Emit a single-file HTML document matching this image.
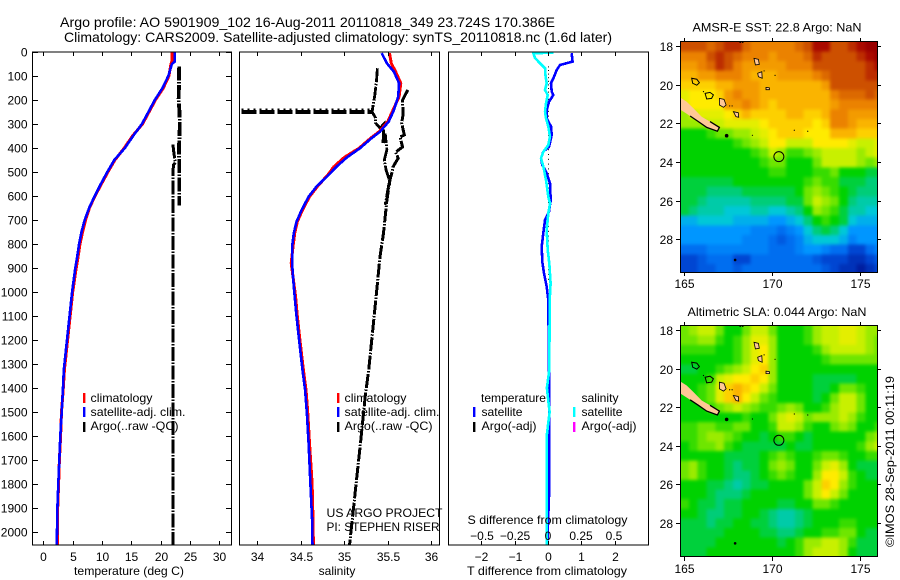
<!DOCTYPE html>
<html>
<head>
<meta charset="utf-8">
<title>Argo profile plot</title>
<style>
html,body{margin:0;padding:0;background:#fff;}
svg{display:block;}
text{font-family:"Liberation Sans",sans-serif;fill:#000;font-size:12px;}
.frame{fill:none;stroke:#000;stroke-width:1.4;shape-rendering:crispEdges;}
</style>
</head>
<body>
<svg id="chart" xmlns="http://www.w3.org/2000/svg" width="900" height="580" viewBox="0 0 900 580">
<defs>
<clipPath id="clip-t"><rect x="33" y="52" width="198" height="493"/></clipPath>
<clipPath id="clip-s"><rect x="240" y="52" width="199" height="493"/></clipPath>
<clipPath id="clip-d"><rect x="449" y="52" width="199" height="493"/></clipPath>
<clipPath id="clip-m1"><rect x="680" y="42" width="197" height="230"/></clipPath>
<clipPath id="clip-m2"><rect x="680" y="326" width="197" height="231"/></clipPath>
<filter id="soften" filterUnits="userSpaceOnUse" x="660" y="20" width="240" height="560" color-interpolation-filters="sRGB">
<feGaussianBlur stdDeviation="1.7"/>
<feComponentTransfer><feFuncA type="linear" slope="30"/></feComponentTransfer>
</filter>
</defs>
<text x="60" y="27" font-size="14" style="font-size:14px" textLength="495" lengthAdjust="spacingAndGlyphs">Argo profile: AO 5901909_102 16-Aug-2011 20110818_349 23.724S 170.386E</text>
<text x="64" y="42" style="font-size:14px" textLength="548" lengthAdjust="spacingAndGlyphs">Climatology: CARS2009. Satellite-adjusted climatology: synTS_20110818.nc (1.6d later)</text>

<g id="g-temp" clip-path="url(#clip-t)"></g>
<g id="g-sal" clip-path="url(#clip-s)"></g>
<g id="g-diff" clip-path="url(#clip-d)"></g>
<g id="g-map1" clip-path="url(#clip-m1)"></g>
<g id="g-map2" clip-path="url(#clip-m2)"></g>
<g id="g-axes"></g>

<rect class="frame" x="32.5" y="52" width="199" height="493"/>
<rect class="frame" x="239.5" y="52" width="200" height="493"/>
<rect class="frame" x="448.5" y="52" width="200" height="493"/>
<rect class="frame" x="680.5" y="41.5" width="197" height="231"/>
<rect class="frame" x="680.5" y="325.5" width="197" height="231"/>

<text x="74" y="575" textLength="110" lengthAdjust="spacingAndGlyphs">temperature (deg C)</text>
<text x="337" y="575" text-anchor="middle">salinity</text>
<text x="467" y="575" textLength="160" lengthAdjust="spacingAndGlyphs">T difference from climatology</text>
<text x="467.5" y="524" textLength="160" lengthAdjust="spacingAndGlyphs">S difference from climatology</text>
<text x="326.5" y="517" textLength="116" lengthAdjust="spacingAndGlyphs">US ARGO PROJECT</text>
<text x="326.5" y="531" textLength="113" lengthAdjust="spacingAndGlyphs">PI: STEPHEN RISER</text>

<g>
<rect x="83" y="393" width="2.4" height="10" fill="#f00"/>
<rect x="83" y="407" width="2.4" height="10" fill="#00f"/>
<rect x="83" y="422" width="2.4" height="10" fill="#000"/>
<text x="90.5" y="402" textLength="62" lengthAdjust="spacingAndGlyphs">climatology</text>
<text x="90.5" y="416" textLength="95" lengthAdjust="spacingAndGlyphs">satellite-adj. clim.</text>
<text x="90.5" y="430" textLength="88" lengthAdjust="spacingAndGlyphs">Argo(..raw -QC)</text>
</g>
<g>
<rect x="337" y="393" width="2.4" height="10" fill="#f00"/>
<rect x="337" y="407" width="2.4" height="10" fill="#00f"/>
<rect x="337" y="422" width="2.4" height="10" fill="#000"/>
<text x="344.5" y="402" textLength="62" lengthAdjust="spacingAndGlyphs">climatology</text>
<text x="344.5" y="416" textLength="95" lengthAdjust="spacingAndGlyphs">satellite-adj. clim.</text>
<text x="344.5" y="430" textLength="88" lengthAdjust="spacingAndGlyphs">Argo(..raw -QC)</text>
</g>
<g>
<text x="481" y="402" textLength="65" lengthAdjust="spacingAndGlyphs">temperature</text>
<rect x="473" y="407" width="2.4" height="10" fill="#00f"/>
<rect x="473" y="422" width="2.4" height="10" fill="#000"/>
<text x="481.5" y="416" textLength="41" lengthAdjust="spacingAndGlyphs">satellite</text>
<text x="481.5" y="430" textLength="55" lengthAdjust="spacingAndGlyphs">Argo(-adj)</text>
<text x="581.5" y="402" textLength="37" lengthAdjust="spacingAndGlyphs">salinity</text>
<rect x="573" y="407" width="2.4" height="10" fill="#0ff"/>
<rect x="573" y="422" width="2.4" height="10" fill="#f0f"/>
<text x="581.5" y="416" textLength="41" lengthAdjust="spacingAndGlyphs">satellite</text>
<text x="581.5" y="430" textLength="55" lengthAdjust="spacingAndGlyphs">Argo(-adj)</text>
</g>

<text x="692.5" y="31.5" textLength="169" lengthAdjust="spacingAndGlyphs">AMSR-E SST: 22.8 Argo: NaN</text>
<text x="687.5" y="316" textLength="179" lengthAdjust="spacingAndGlyphs">Altimetric SLA: 0.044 Argo: NaN</text>
<text transform="translate(894,547) rotate(-90)" x="0" y="0" textLength="171" lengthAdjust="spacingAndGlyphs">©IMOS 28-Sep-2011 00:11:19</text>
</svg>

<script>
// ---- axis tick values ----
const depthTicks = [0,100,200,300,400,500,600,700,800,900,1000,1100,1200,1300,1400,1500,1600,1700,1800,1900,2000];
const tempTicks = [0,5,10,15,20,25,30];
const salTicks = [34,34.5,35,35.5,36];
const salTickLabels = ['34','34.5','35','35.5','36'];
const tDiffTicks = [-2,-1,0,1,2];
const tDiffLabels = ['\u22122','\u22121','0','1','2'];
const sDiffTicks = [-0.5,-0.25,0,0.25,0.5];
const sDiffLabels = ['\u22120.5','\u22120.25','0','0.25','0.5'];
const lonTicks = [165,170,175];
const latTicks = [18,20,22,24,26,28];

// ---- temperature profiles ----
const tempDepths = [0,40,50,100,150,200,250,300,350,400,450,500,550,600,650,700,750,800,850,900,1000,1325,1400,1500,1600,1700,1800,1900,2000,2055];
const tempSatellite = [22.4,22.4,21.9,21.3,20.3,19.0,17.9,16.8,15.3,13.9,12.1,10.9,9.8,8.75,7.8,7.05,6.5,6.1,5.8,5.45,4.9,3.5,3.35,3.13,2.9,2.73,2.56,2.4,2.33,2.3];
const tempClimatology = [21.9,21.9,21.75,21.4,20.45,19.1,18.0,16.9,15.2,13.8,12.2,11.0,9.9,8.8,7.85,7.2,6.7,6.25,5.95,5.6,5.0,3.6,3.4,3.1,2.95,2.75,2.6,2.45,2.4,2.4];
const argoTempUpperDepths = [60,100,150,200,250,300,350,400,450,500,550,600,640];
const argoTempUpper = [23.15,23.1,23.1,23.05,23.2,23.25,23.2,23.1,23.15,23.15,23.15,23.15,23.15];
const argoTempLowerDepths = [385,400,430,460,470,480,500,800,1500,2055];
const argoTempLower = [22.1,22.15,22.3,22.5,22.2,22.15,22.1,22.1,22.1,22.1];

// ---- salinity profiles ----
const salDepths = [5,47,82,130,186,242,290,332,360,401,439,478,512,561,603,658,707,755,811,880,936,1020,1100,1200,1325,1408,1506,1630,1797,1950,2055];
const salSatellite = [35.43,35.49,35.57,35.63,35.62,35.57,35.51,35.41,35.31,35.18,35.03,34.91,34.82,34.68,34.59,34.51,34.45,34.42,34.40,34.40,34.41,34.43,34.45,34.48,34.52,34.55,34.57,34.59,34.61,34.63,34.635];
const salClimatology = [35.52,35.54,35.59,35.65,35.63,35.56,35.5,35.4,35.3,35.17,35.0,34.88,34.81,34.69,34.6,34.52,34.46,34.43,34.41,34.39,34.41,34.44,34.46,34.49,34.53,34.56,34.58,34.6,34.63,34.64,34.645];
const argoSalADepths = [68,120,180,249,275,296,317,300,379,340,408,450,492,535,575,637];
const argoSalA = [35.38,35.37,35.35,35.32,35.36,35.36,35.41,35.455,35.445,35.47,35.49,35.46,35.48,35.52,35.5,35.47];
const argoSalBDepths = [158,200,262,296,346,354,396,417,442,479,500,533,617,755,853,1020,1325,1436,1617,1783,1921,2055];
const argoSalB = [35.73,35.67,35.675,35.66,35.69,35.64,35.67,35.59,35.62,35.56,35.55,35.525,35.49,35.45,35.41,35.365,35.28,35.24,35.19,35.14,35.10,35.06];
const argoSpikeSal = [33.82,35.33];
const argoSpikeDepths = [250,250];
const argoSpikeTeethDepths = [238,238];

// ---- difference profiles ----
const tDiffDepths = [5,40,54,75,110,130,165,179,207,242,276,311,346,395,415,443,471,505,547,617,665,700,755,811,874,922,978,1033,1325,1550,1850,2000,2055];
const tDiffSatellite = [0.71,0.74,0.36,0.26,0.16,0.09,0.11,0.16,0.03,-0.04,-0.04,0.09,0.11,0.03,-0.14,-0.21,-0.17,-0.04,0.06,0.08,0.03,-0.09,-0.14,-0.19,-0.17,-0.12,-0.04,0.01,0.03,0.04,0.03,-0.01,-0.02];
const sDiffDepths = [3,5,26,47,68,103,130,158,179,214,249,276,311,353,388,415,443,478,533,603,631,672,742,825,880,964,1033,1325,1400,1500,1600,1800,2000,2055];
const sDiffSatellite = [0.04,-0.111,-0.098,-0.06,-0.023,-0.018,-0.01,-0.023,-0.002,-0.015,-0.023,-0.015,0.002,0.015,0.002,-0.035,-0.053,-0.035,-0.015,0.002,0.015,0.002,-0.01,-0.002,0.01,0.02,0.013,0.01,-0.008,0.012,-0.01,-0.008,-0.01,-0.01];
const argoDiffDots = [60,75,90,105,120,135,150,165,180,195,210,225,245,265,285,305,325,345,365,385,405,425,445,465,485,505,525,545,565,585,605,625,645,665,685,705,725,745,765,785,805,825,845,865,885,905,925,945];

// ---- SST map levels (colour level per 0.5 degree cell, north to south) ----
const sstLevels = [
[12,12,12,11.5,12,12.5,12.5,11.5,11,11,11,11,11,11.5,12,13,13,12,12,12.5,13,13.5,13.5],
[11,11,11,12,12.5,12,11.5,11,11,11,10.5,11,11,11,11.5,12.5,12,12,12,12,12.5,13,13.5],
[10.5,10.5,11,11.5,12.5,12,11,10.5,10.5,10.5,10.5,10.5,11,11,11,12,12,12,12,12,12,12.5,13],
[10,10,10.5,10.5,11,11,11,10.5,10,10,10,10.5,10.5,10.5,10.5,11,11.5,12,12,12,12,12.5,12.5],
[9.5,9.5,9.5,9.5,10,10,10.5,10.5,10.5,10,10,10,10,10,10,10,10.5,12,12,12,12,12,12],
[8.5,9,9,9,9.5,10.5,11,10.5,10.5,10,10,10,10,10,10,10,10,11,11.5,11.5,11.5,12,11.5],
[8.5,9,9,9,9,10.5,10.5,11,10.5,10,9.5,10,10,10,10,10,10,10.5,11,11,11,11,11],
[7.5,8,8.5,8.5,8.5,9,9.5,10,9.5,9.5,9.5,9.5,10,10,9.5,9.5,10,11,11,10.5,10.5,10.5,10.5],
[7.5,7.5,7.5,8,8,8.5,8.5,8.5,8.5,9,9.5,9.5,9.5,9.5,9.5,9,9.5,11,11,10.5,10,10,10],
[6,6,6,6.5,7,7,7.5,7.5,8,8.5,9,9.5,9.5,9.5,9,9,9,10,10,10,9.5,9.5,9.5],
[6,6,6,6,6,6,6.5,7,7.5,8,9,9,8,8,8,9,9,9,9,8.5,8,8,8.5],
[6,6,6,6,6,6,6,6,6.5,7,8,7.5,6.5,6.5,7,7.5,8,8,8,8,7.5,8,8.5],
[6,6,6,6,6,6,6,6,6,6.5,7,7,6,6,6,7,8,8,8,8,7.5,7,7.5],
[6,6,6,6,6,6,6,6,6,6,6.5,6.5,6,6,6,6.5,6.5,7,6,6,6,5.5,5.5],
[5.5,5.5,5.5,5.5,5.5,5.5,6,6,6,6,6,6,6,6,6.5,7,6.5,6.5,5.5,5.5,5.5,5,5],
[5.5,5.5,5.5,5,5,5,5,5.5,5.5,5.5,5.5,5.5,5.5,6,7,7.5,7,6.5,6,5.5,5,5,5],
[5.5,5.5,5,4.5,4.5,4.5,4.5,4.5,5,5,5,5,5.5,5.5,7,8,7.5,7,6,5,4.5,4.5,4.5],
[5.5,5,4.5,4.5,4.5,4,4,4,4.5,4.5,4,4,4.5,5,6,7.5,7,6.5,5.5,4.5,4.5,4,4],
[3.5,3.5,4,4,4,4,3.5,3.5,3.5,3.5,3,3,3.5,4,5,6,6.5,6,5.5,4,3.5,3.5,3.5],
[3,3,3,3,3,3,3,3,2.5,2.5,2.5,2,2.5,3,4,5,5.5,5,4,3,3,3,3],
[3,3,3,3,3,3,3,2.5,2.5,2.5,2,1.5,2,2.5,3.5,4,4,4,3.5,2.5,3,3,3],
[2,2,2,2.5,2.5,2.5,2.5,2.5,2.5,2.5,2,2,2,2.5,3,3,2.5,2,2,1,1,2,2.5],
[1,1,1.5,2,2,2,1,1,2,2,2,2,2,2,2,1.5,1,1,1,0.5,0.5,1,1.5],
[1,1,1.5,1.5,2,2,1.5,2,2,2,2,2,2,2,2,2,1.5,1,0.5,0.5,0,0.5,1]
];

// ---- SLA map levels ----
const slaLevels = [
[7,7.5,8,8,7,6,6,7,8,8,7,6,6,6,6.5,7.5,8,8,8.5,8.5,8,7.5,7.5],
[7,7,7.5,7.5,6.5,6,6.5,7.5,8.5,8.5,7.5,6,6,6,6.5,7.5,8,8,8.5,8.5,8,7.5,7],
[6.5,6.5,6.5,6.5,6,6,6.5,7.5,8.5,9,7.5,6,6,6,6,6.5,7.5,8,8,8,8,7.5,7],
[6,6,6,6,6,6,6.5,7.5,8.5,9,7.5,6,6,6,6,6,6.5,7,7,7,7,7,7],
[5.5,5.5,6,6,6.5,7,7.5,8,9,9.5,7.5,6,6,6,6,6,6,6,6,6,6,6,6],
[6,6,6,6.5,8,8.5,9,9,9.5,9,7.5,6,6,6,6,5.5,5.5,5.5,5.5,5.5,6,6,6],
[6,6,6.5,7,8.5,9.5,10,9.5,9,8,7,6,6,6,6,5.5,5.5,6,7,7,6.5,6,6],
[6,6,6.5,7,8.5,9.5,10,9,8,7,6.5,6,6,6,6,5.5,6,7,8,8,7,6,6],
[6,6,6,6.5,7,7.5,8,7.5,7,6.5,6.5,7,7.5,7,6,6,6.5,7.5,8,8,7,6,6],
[6,6,6,6,6,6,6,6.5,6,6,7,8,8.5,8,7,7.5,7.5,7.5,8,7.5,6.5,6,6],
[6.5,6.5,7,7,6.5,6.5,7,7,6,6,6.5,8,8,7.5,6.5,6,6,7,7.5,7,6,6,6.5],
[6.5,6.5,7,7.5,7.5,7,6.5,6,6,5.5,6,6.5,6.5,6,5.5,6,6,6,6,6,6,7,7.5],
[6,6.5,7,7,7.5,6.5,6,5.5,5.5,5.5,5.5,5.5,6,5.5,5.5,6,6,6,6,6,6.5,7.5,8],
[6,6,6,6,6,5.5,5.5,5.5,5.5,6,6.5,7,6.5,6,6,6.5,7,7,6.5,6,6,6.5,6.5],
[7,7.5,6.5,6,6,5.5,5,5.5,5.5,6,7,7.5,7,6,6,7,8,8.5,7.5,6,5.5,5.5,5.5],
[7,7.5,6.5,6,6,5.5,5,5,5.5,6,6.5,7,6.5,6,6,7.5,9,9,8,6.5,6,5.5,5.5],
[6,6,6,5.5,5.5,5,4.5,5,5.5,5.5,6,6,6,6,7,8,9.5,9,7.5,6.5,6,6,6],
[6,6,6,5.5,5,5,5,5.5,6,6,6,6,6,6,7,8,9,8,7,6,6,6,6],
[6.5,6,5.5,5.5,5,5.5,5.5,6,6,6,6,5.5,5.5,6,6,7,7,6.5,6,6,6,6,6],
[6,6,5.5,5,5,5.5,5.5,6,6,5.5,5,4.5,4.5,5,5.5,6,6,6,6,6,6,6,6],
[5.5,5.5,5.5,5,5.5,5.5,6,6,5.5,5.5,5,4.5,4.5,5,5.5,6,6,6,6.5,6.5,6,6,6],
[5.5,5.5,5.5,5.5,5.5,6,6,6,6,5.5,5.5,5,5,5.5,6,6,6.5,6.5,7,7,6,5.5,5.5],
[5.5,5.5,5.5,5.5,6,6,6,6,6,6,6,5.5,6,6.5,7.5,7.5,8,8,7.5,6.5,5.5,5.5,5.5],
[5.5,5.5,5.5,6,6,6,6,6,6,6,6,6,6,6.5,7.5,8,8,8,7.5,6,5.5,5.5,5.5]
];
const colourStops = ['#001ea0','#0046d2','#006ef0','#0096ff','#00c8d7','#00cd78','#00d200','#6ee600','#c8f000','#ffeb00','#fab400','#eb8200','#cd5000','#aa0a00'];

// ---- geography (lon/lat, degrees south) ----
const caledoniaLon = [164.79,165.17,165.55,166.02,166.49,167.02,166.91,166.3,165.83,165.36,164.79];
const caledoniaLat = [20.66,20.88,21.22,21.66,21.91,22.21,22.41,22.21,21.91,21.62,21.28];
const outlineIslandLons = [[165.45,165.74,165.89,165.74,165.51],[166.21,166.49,166.68,166.58,166.3]];
const outlineIslandLats = [[19.67,19.72,19.9,20.03,19.93],[20.45,20.4,20.53,20.71,20.74]];
const filledIslandLons = [[167.02,167.28,167.4,167.25,167.02],[167.81,168.09,168.11,167.96],[168.98,169.23,169.28,169.06],[169.19,169.42,169.44,169.23],[169.66,169.85,169.85,169.66]];
const filledIslandLats = [[20.71,20.76,21.05,21.17,21.05],[21.4,21.45,21.69,21.66],[18.64,18.69,18.95,18.98],[19.41,19.33,19.67,19.59],[20.14,20.16,20.26,20.26]];
const islandDotLons = [167.43,167.91,168.89,170.17,171.26,172.02,169.55,166.12,167.74,167.6,168.2,168.34];
const islandDotLats = [22.64,29.07,22.62,19.52,22.36,22.41,19.29,20.36,21.1,21.1,17.8,17.8];
const islandDotRadii = [1.8,1.3,0.6,0.6,0.6,0.6,0.6,0.6,0.6,0.6,0.9,0.9];
const floatLon = 170.386;
const floatLat = 23.724;

const NS = 'http://www.w3.org/2000/svg';
function mk(tag, parent, attrs){
  const el = document.createElementNS(NS, tag);
  for (const k in attrs) el.setAttribute(k, attrs[k]);
  parent.appendChild(el);
  return el;
}
// axis functions
function yDepth(d){ return 52 + d * 0.24; }
function xTemp(t){ return 43.3 + t * 5.87; }
function xSal(s){ return 257.3 + (s - 34) * 87; }
function xTDiff(t){ return 548 + t * 33.3; }
function xSDiff(s){ return 548 + s * 132; }
function xLon(lon){ return 683.7 + (lon - 165) * 17.67; }
function yLat1(lat){ return 46 + (lat - 18) * 19.33; }
function yLat2(lat){ return 330 + (lat - 18) * 19.27; }

function hexToRgb(h){ return [parseInt(h.substr(1,2),16),parseInt(h.substr(3,2),16),parseInt(h.substr(5,2),16)]; }
function levelColour(v){
  const i = Math.min(Math.floor(v), colourStops.length - 2);
  const f = v - i;
  const a = hexToRgb(colourStops[i]);
  const b = hexToRgb(colourStops[i + 1]);
  return 'rgb(' + a.map(function(c, n){ return Math.round(c + (b[n] - c) * f); }).join(',') + ')';
}
function pts(xs, ys, fx, fy){
  return xs.map(function(v, i){ return fx(v).toFixed(1) + ',' + fy(ys[i]).toFixed(1); }).join(' ');
}
function profile(parent, name, vals, depths, fx, colour, width, dash){
  const attrs = {points: pts(vals, depths, fx, yDepth), fill: 'none', stroke: colour, 'stroke-width': width, 'shape-rendering': 'crispEdges'};
  if (dash) attrs['stroke-dasharray'] = dash;
  const el = mk('polyline', parent, attrs);
  
  
  return el;
}
const gTemp = document.getElementById('g-temp');
const gSal = document.getElementById('g-sal');
const gDiff = document.getElementById('g-diff');
const gAxes = document.getElementById('g-axes');
const ARGO_DASH = '14 1.5 1.5 1.5';

// temperature panel
profile(gTemp, 'argo-temperature-upper-line', argoTempUpper, argoTempUpperDepths, xTemp, '#000', 3.8, ARGO_DASH);
profile(gTemp, 'argo-temperature-lower-line', argoTempLower, argoTempLowerDepths, xTemp, '#000', 3, ARGO_DASH);
profile(gTemp, 'temperature-climatology-line', tempClimatology, tempDepths, xTemp, '#f00', 3);
profile(gTemp, 'temperature-satellite-line', tempSatellite, tempDepths, xTemp, '#00f', 2.6);

// salinity panel
profile(gSal, 'argo-salinity-spike', argoSpikeSal, argoSpikeDepths, xSal, '#000', 4, '15 3');
profile(gSal, 'argo-salinity-spike-teeth', argoSpikeSal, argoSpikeTeethDepths, xSal, '#000', 1.5, '2 4');
profile(gSal, 'argo-salinity-line-a', argoSalA, argoSalADepths, xSal, '#000', 2.8, ARGO_DASH);
profile(gSal, 'argo-salinity-line-b', argoSalB, argoSalBDepths, xSal, '#000', 3, ARGO_DASH);
profile(gSal, 'salinity-climatology-line', salClimatology, salDepths, xSal, '#f00', 3);
profile(gSal, 'salinity-satellite-line', salSatellite, salDepths, xSal, '#00f', 2.6);

// difference panel
argoDiffDots.forEach(function(d){
  const dot = mk('rect', gDiff, {x: xTDiff(0), y: yDepth(d), width: 1, height: 1, fill: '#000'});
  
  
});
profile(gDiff, 't-difference-satellite-line', tDiffSatellite, tDiffDepths, xTDiff, '#00f', 2.6);
profile(gDiff, 's-difference-satellite-line', sDiffSatellite, sDiffDepths, xSDiff, '#0ff', 2.6);

// ticks and labels
function tick(x1, y1, x2, y2){
  const t = mk('line', gAxes, {x1: x1, y1: y1, x2: x2, y2: y2, stroke: '#000', 'stroke-width': 1, 'shape-rendering': 'crispEdges'});
  
  
}
function label(x, y, s, anchor){
  const t = mk('text', gAxes, {x: x, y: y, 'text-anchor': anchor});
  t.textContent = s;
  
  
}
depthTicks.forEach(function(d){
  const y = Math.round(yDepth(d)) + 0.5;
  tick(33, y, 38, y);
  tick(226, y, 231, y);
  label(27.5, y + 4, String(d), 'end');
});
tempTicks.forEach(function(v){
  const x = Math.round(xTemp(v)) + 0.5;
  tick(x, 52, x, 56);
  tick(x, 541, x, 545);
  label(x, 561, String(v), 'middle');
});
salTicks.forEach(function(v, i){
  const x = Math.round(xSal(v)) + 0.5;
  tick(x, 52, x, 56);
  tick(x, 541, x, 545);
  label(x, 561, salTickLabels[i], 'middle');
});
tDiffTicks.forEach(function(v, i){
  const x = Math.round(xTDiff(v)) + 0.5;
  tick(x, 52, x, 56);
  tick(x, 541, x, 545);
  label(x, 561, tDiffLabels[i], 'middle');
});
sDiffTicks.forEach(function(v, i){
  label(xSDiff(v), 540, sDiffLabels[i], 'middle');
});

// maps
function drawMap(gid, levels, yLat, top, bottom, name){
  const g = document.getElementById(gid);
  const cells = mk('g', g, {filter: 'url(#soften)'});
  
  
  const lon0 = 164.79;
  const lat0 = 17.78;
  levels.forEach(function(row, r){
    row.forEach(function(v, c){
      const x0 = xLon(lon0 + c * 0.5);
      const x1 = xLon(lon0 + (c + 1) * 0.5);
      const y0 = yLat(lat0 + r * 0.5);
      const y1 = yLat(lat0 + (r + 1) * 0.5);
      const cell = mk('rect', cells, {x: x0, y: y0, width: x1 - x0, height: y1 - y0, fill: levelColour(v), 'shape-rendering': 'crispEdges'});
      
      
    });
  });
  const coast = mk('polygon', g, {points: pts(caledoniaLon, caledoniaLat, xLon, yLat), fill: '#ffc896'});
  
  
  const shore = mk('polyline', g, {points: pts(caledoniaLon.slice(4, 10), caledoniaLat.slice(4, 10), xLon, yLat), fill: 'none', stroke: '#000', 'stroke-width': 1.3});
  
  
  outlineIslandLons.forEach(function(lons, i){
    const isl = mk('polygon', g, {points: pts(lons, outlineIslandLats[i], xLon, yLat), fill: 'none', stroke: '#000', 'stroke-width': 1});
    
    
  });
  filledIslandLons.forEach(function(lons, i){
    const isl = mk('polygon', g, {points: pts(lons, filledIslandLats[i], xLon, yLat), fill: '#ffc896', stroke: '#000', 'stroke-width': 0.8});
    
    
  });
  islandDotLons.forEach(function(lon, i){
    const dot = mk('circle', g, {cx: xLon(lon), cy: yLat(islandDotLats[i]), r: islandDotRadii[i], fill: '#000'});
    
    
  });
  const ring = mk('circle', g, {cx: xLon(floatLon), cy: yLat(floatLat), r: 5, fill: 'none', stroke: '#000', 'stroke-width': 1});
  
  

  lonTicks.forEach(function(lon){
    const x = Math.round(xLon(lon)) + 0.5;
    tick(x, top - 4, x, top);
    tick(x, bottom, x, bottom + 4);
    label(x, bottom + 16, String(lon), 'middle');
  });
  latTicks.forEach(function(lat){
    const y = Math.round(yLat(lat)) + 0.5;
    tick(676, y, 680, y);
    tick(877, y, 881, y);
    label(673, y + 4.5, String(lat), 'end');
  });
}
drawMap('g-map1', sstLevels, yLat1, 42, 272, 'sst');
drawMap('g-map2', slaLevels, yLat2, 326, 557, 'sla');
</script>
</body>
</html>
